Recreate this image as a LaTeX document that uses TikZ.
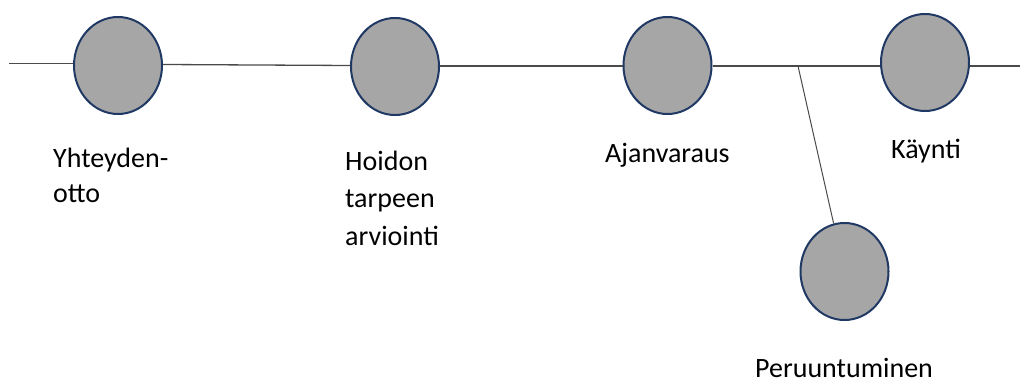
\documentclass[tikz,border=0pt]{standalone}
\usepackage{fontspec}
\setmainfont{Carlito}
\usetikzlibrary{shapes.geometric}
\definecolor{stepfill}{HTML}{A6A6A6}
\definecolor{stepedge}{HTML}{203864}
\definecolor{linegray}{HTML}{4A4A4A}
\tikzset{
  stage/.style={ellipse, draw=stepedge, fill=stepfill, line width=2pt,
    minimum width=88pt, minimum height=97pt, inner sep=0pt},
  flow/.style={draw=linegray, line width=1.3pt},
  label/.style={anchor=base west, inner sep=0pt, align=left,
    font=\fontsize{28}{36}\selectfont}
}
\begin{document}
\begin{tikzpicture}[x=1pt,y=-1pt]
  \useasboundingbox (0,0) rectangle (1020,385);
  % process stages
  \node[stage] (c1) at (118,65.5) {};
  \node[stage] (c2) at (395,66.5) {};
  \node[stage] (c3) at (667.5,65.5) {};
  \node[stage] (c4) at (925,62.5) {};
  \node[stage] (c5) at (844.5,271.5) {};
  % timeline
  \coordinate (start) at (9,63.5);
  \coordinate (stop) at (1020,66);
  \coordinate (fork) at (798,66);
  \draw[flow] (start) -- (start -| c1.west);
  \draw[flow] (c1.east |- 0,64.5) -- (c2.west |- 0,65.5);
  \draw[flow] (c2.east |- 0,66) -- (c3.west |- 0,66);
  \draw[flow] (c3.east |- fork) -- (fork) -- (fork -| c4.west);
  \draw[flow] (c4.east |- stop) -- (stop);
  \draw[flow, line width=1pt] (fork) -- (c5);
  % stage names (anchored at the baseline of the last line)
  \node[label, font=\fontsize{28}{35}\selectfont] (t1) at (53,202) {Yhteyden-\\otto};
  \node[label, font=\fontsize{28}{37.5}\selectfont] (t2) at (345,245) {Hoidon\\tarpeen\\arviointi};
  \node[label] (t3) at (605,163) {Ajanvaraus};
  \node[label] (t4) at (891,158) {Käynti};
  \node[label, text depth=0pt] (t5) at (755,377) {Peruuntuminen};
\end{tikzpicture}
\end{document}
